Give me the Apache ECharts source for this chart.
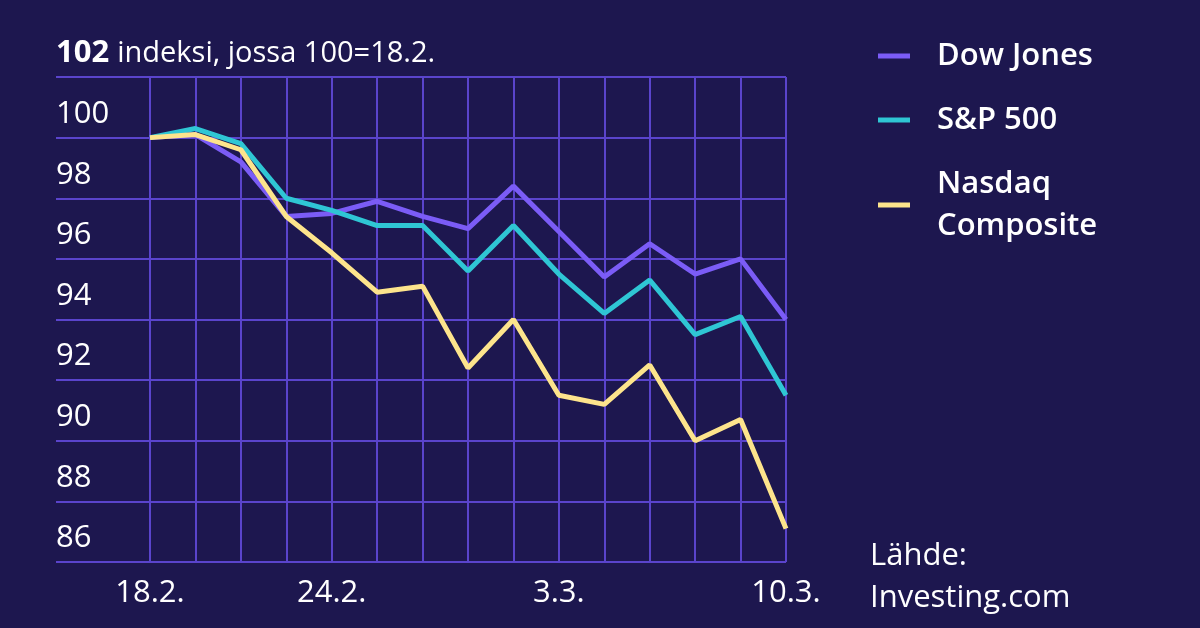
<!DOCTYPE html>
<html><head><meta charset="utf-8">
<script src="https://cdn.jsdelivr.net/npm/echarts@6/dist/echarts.min.js"></script>
<style>html,body{margin:0;background:#1d174f}#c{width:1200px;height:628px}</style>
</head><body><div id="c"></div>
<script>
const dates = ['18.2.','19.2.','20.2.','21.2.','24.2.','25.2.','26.2.','27.2.','28.2.','3.3.','4.3.','5.3.','6.3.','7.3.','10.3.'];
const shownDates = ['18.2.','24.2.','3.3.','10.3.'];
const yTicks = [86,88,90,92,94,96,98,100,102];
const dowJones = [100,100.1,99.2,97.4,97.5,97.9,97.4,97.0,98.4,96.9,95.4,96.5,95.5,96.0,94.0];
const sp500 = [100,100.3,99.8,98.0,97.6,97.1,97.1,95.6,97.1,95.5,94.2,95.3,93.5,94.1,91.5];
const nasdaq = [100,100.1,99.6,97.4,96.2,94.9,95.1,92.4,94.0,91.5,91.2,92.5,90.0,90.7,87.1];
const font = '"Open Sans", "Noto Sans", sans-serif';
const gl = '#5a44cc';
const chart = echarts.init(document.getElementById('c'));
chart.setOption({
  backgroundColor: '#1d174f',
  textStyle:{fontFamily:font},
  grid:[
    {left:56, right:414, top:77, bottom:66},
    {left:150, right:414, top:77, bottom:66}
  ],
  xAxis:[
    {gridIndex:0, type:'value', show:false, min:0, max:1},
    {gridIndex:1, type:'category', data:dates, boundaryGap:false,
     axisLine:{show:false}, axisTick:{show:false},
     axisLabel:{color:'#fff', fontSize:31, fontFamily:font, margin:16,
       interval:(i,v)=>shownDates.includes(v), formatter:v=>v},
     splitLine:{show:true, interval:0, lineStyle:{color:gl, width:2}}}
  ],
  yAxis:[
    {gridIndex:0, type:'value', min:86, max:102, interval:2,
     axisLine:{show:false}, axisTick:{show:false},
     splitLine:{show:true, lineStyle:{color:gl, width:2}},
     axisLabel:{inside:true, color:'#fff', fontSize:31, fontFamily:font,
       verticalAlign:'bottom', padding:[0,0,8,0], margin:0,
       formatter:v=> v===102 ? '{b|102} {t|indeksi, jossa 100=18.2.}' : String(v),
       rich:{b:{fontSize:31, fontWeight:'bold', color:'#fff', fontFamily:font},
             t:{fontSize:29, color:'#fff', fontFamily:font}}}},
    {gridIndex:1, type:'value', min:86, max:102, interval:2, show:false, splitLine:{show:false}}
  ],
  legend:{
    orient:'vertical', left:873, top:30, itemWidth:32, itemHeight:5, itemGap:22,
    icon:'rect',
    textStyle:{color:'#fff', fontSize:31, fontWeight:600, fontFamily:font, padding:[0,0,0,22], lineHeight:42},
    data:['Dow Jones','S&P 500','Nasdaq\nComposite']
  },
  graphic:[{type:'text', left:870, top:535, style:{text:'Lähde:\nInvesting.com', fill:'#fff', fontSize:31, fontFamily:font, lineHeight:42}}],
  series:[
    {name:'Dow Jones', type:'line', xAxisIndex:1, yAxisIndex:1, data:dowJones, symbol:'none', lineStyle:{width:5, color:'#7b5cf6'}, itemStyle:{color:'#7b5cf6'}},
    {name:'S&P 500', type:'line', xAxisIndex:1, yAxisIndex:1, data:sp500, symbol:'none', lineStyle:{width:5, color:'#2fc6d4'}, itemStyle:{color:'#2fc6d4'}},
    {name:'Nasdaq\nComposite', type:'line', xAxisIndex:1, yAxisIndex:1, data:nasdaq, symbol:'none', lineStyle:{width:5, color:'#fde48c'}, itemStyle:{color:'#fde48c'}}
  ]
});
</script></body></html>
